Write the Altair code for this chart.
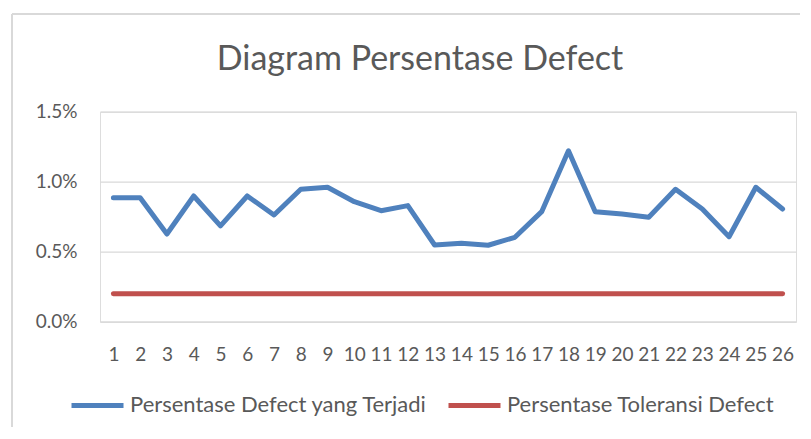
import altair as alt
import pandas as pd

# ---- data ----
days = [1, 2, 3, 4, 5, 6, 7, 8, 9, 10, 11, 12, 13, 14, 15, 16, 17, 18, 19, 20, 21, 22, 23, 24, 25, 26]
defect_pct = [0.00886, 0.00886, 0.00626, 0.00898, 0.00684, 0.00898, 0.00762, 0.00946, 0.00960, 0.00857,
              0.00793, 0.00829, 0.00548, 0.00560, 0.00546, 0.00603, 0.00786, 0.01221, 0.00786, 0.00769,
              0.00746, 0.00946, 0.00805, 0.00607, 0.00960, 0.00805]
tolerance_pct = [0.002, 0.002, 0.002, 0.002, 0.002, 0.002, 0.002, 0.002, 0.002, 0.002,
                 0.002, 0.002, 0.002, 0.002, 0.002, 0.002, 0.002, 0.002, 0.002, 0.002,
                 0.002, 0.002, 0.002, 0.002, 0.002, 0.002]
series_names = ["Persentase Defect yang Terjadi", "Persentase Toleransi Defect"]
series_colors = ["#4F81BD", "#C0504D"]
y_ticks = [0, 0.005, 0.01, 0.015]
title_text = "Diagram Persentase Defect"

rows = []
for d, v in zip(days, defect_pct):
    rows.append({"Hari": d, "Nilai": v, "Seri": series_names[0]})
for d, v in zip(days, tolerance_pct):
    rows.append({"Hari": d, "Nilai": v, "Seri": series_names[1]})
df = pd.DataFrame(rows)

FONT = "Lato"
TXT = "#595959"
GRID = "#d9d9d9"

lines = alt.Chart(df).mark_line(strokeWidth=5, strokeCap="round", strokeJoin="round").encode(
    x=alt.X("Hari:O", sort=days,
            scale=alt.Scale(type="point", padding=0.5),
            axis=alt.Axis(title=None, labelAngle=0, ticks=False, domain=True, domainColor=GRID,
                          grid=False, labelFontSize=19, labelPadding=24, labelColor=TXT,
                          labelFont=FONT)),
    y=alt.Y("Nilai:Q", scale=alt.Scale(domain=[0, 0.015], nice=False),
            axis=alt.Axis(title=None, values=y_ticks, format=".1%", ticks=False, domain=False,
                          grid=True, gridColor=GRID, gridWidth=1.3, labelFontSize=19,
                          labelPadding=23, labelColor=TXT, labelFont=FONT)),
    color=alt.Color("Seri:N", sort=series_names,
                    scale=alt.Scale(domain=series_names, range=series_colors),
                    legend=alt.Legend(title=None, orient="none", direction="horizontal",
                                      legendX=-31, legendY=265, symbolType="stroke",
                                      symbolSize=2704, symbolStrokeWidth=5, labelOffset=4,
                                      columnPadding=10, labelFontSize=22, labelFont=FONT,
                                      labelColor=TXT, labelLimit=400, padding=0)),
)

one = alt.Data(values=[{"k": 1}])

title = alt.Chart(one).mark_text(text=title_text, font=FONT, fontSize=34, color=TXT,
                                 align="center", baseline="alphabetic").encode(
    x=alt.value(320), y=alt.value(-41.7))

border_top = alt.Chart(one).mark_rule(color=GRID, strokeWidth=2).encode(
    x=alt.value(-88), x2=alt.value(700), y=alt.value(-97.7))
border_left = alt.Chart(one).mark_rule(color=GRID, strokeWidth=2).encode(
    x=alt.value(-88), y=alt.value(-97.7), y2=alt.value(330))

chart = alt.layer(border_top, border_left, lines, title).properties(
    width=696, height=210,
    autosize=alt.AutoSizeParams(type="none"),
    padding={"left": 92, "top": 103.7, "right": 5, "bottom": 105},
).configure_view(stroke=None).configure(background="white")

chart.save("out.html", embed_options={"renderer": "svg", "actions": False})
